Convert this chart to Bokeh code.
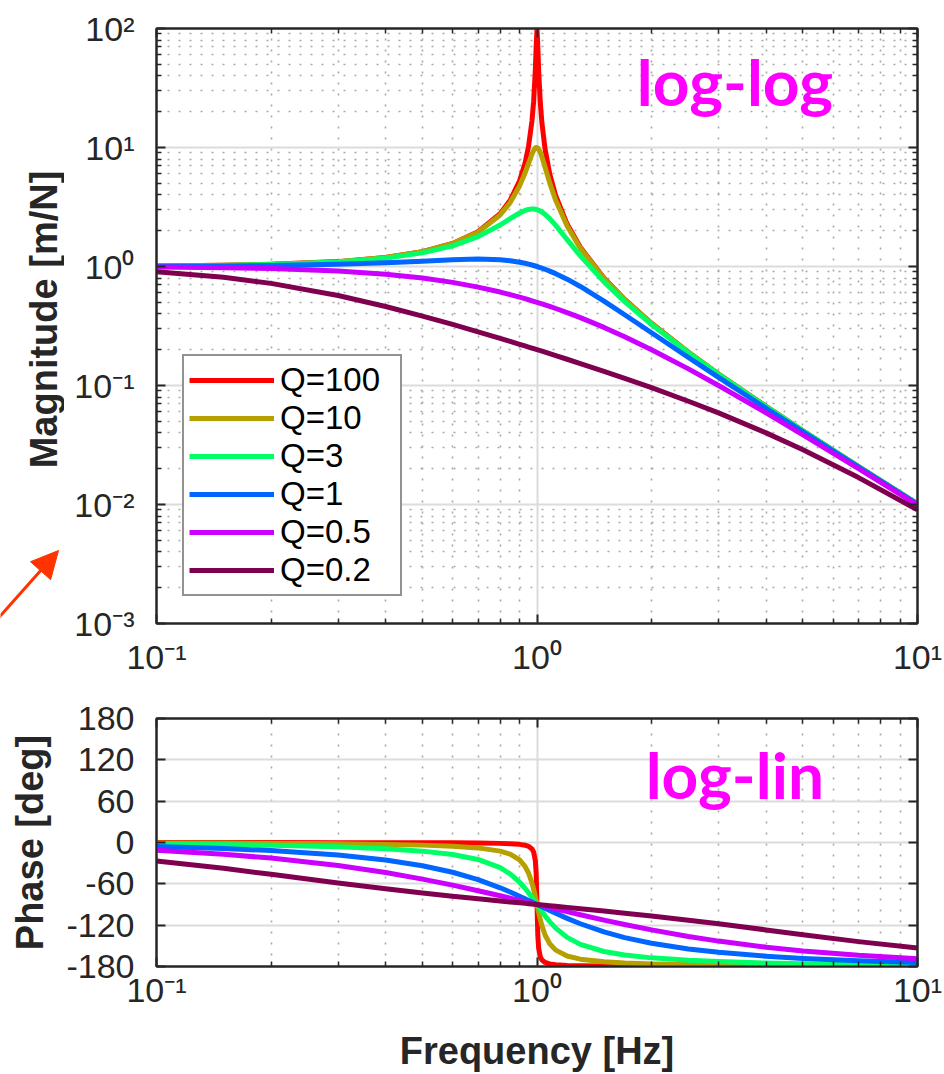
import math
from bokeh.plotting import figure
from bokeh.layouts import column, row
from bokeh.models import (FixedTicker, LogAxis, LinearAxis, Legend, LegendItem, Label,
                          Arrow, NormalHead, CustomJSTickFormatter, Range1d)
from bokeh.embed import file_html
from bokeh.resources import INLINE

# ---------------- data ----------------
q_labels = ["Q=100", "Q=10", "Q=3", "Q=1", "Q=0.5", "Q=0.2"]
q_colors = ["#FF0000", "#B5A000", "#00FF66", "#0066FF", "#CC00FF", "#800050"]

freq = [0.1, 0.15, 0.2, 0.3, 0.4, 0.5, 0.6, 0.7, 0.8, 0.85, 0.9, 0.93, 0.95, 0.97, 0.98,
        0.99, 0.995, 1.0, 1.005, 1.01, 1.02, 1.03, 1.05, 1.08, 1.12, 1.2, 1.3, 1.5, 1.7,
        2.0, 2.5, 3.0, 4.0, 5.0, 7.0, 10.0]

mag_q100 = [1.010, 1.023, 1.042, 1.099, 1.190, 1.333, 1.563, 1.961, 2.777, 3.602, 5.257, 7.384,
            10.21, 16.70, 24.51, 44.99, 70.98, 100.0, 70.45, 44.45, 24.00, 16.19, 9.705, 5.997,
            3.927, 2.272, 1.449, 0.800, 0.529, 0.3333, 0.1905, 0.125, 0.0667, 0.04167, 0.02083, 0.0101]
mag_q10 = [1.010, 1.023, 1.041, 1.098, 1.189, 1.330, 1.556, 1.943, 2.712, 3.446, 4.757, 6.097,
           7.346, 8.804, 9.461, 9.903, 10.0, 10.0, 9.901, 9.711, 9.115, 8.357, 6.815, 5.041,
           3.598, 2.193, 1.424, 0.7943, 0.527, 0.3326, 0.1903, 0.1249, 0.06664, 0.04166, 0.02083, 0.0101]
mag_q3 = [1.0095, 1.0217, 1.0392, 1.0923, 1.1758, 1.3016, 1.4914, 1.7830, 2.2321, 2.5215, 2.8161,
          2.9572, 3.0181, 3.0424, 3.0390, 3.0248, 3.0137, 3.0, 2.9837, 2.9650, 2.9206, 2.8679,
          2.7420, 2.5215, 2.2135, 1.6817, 1.2273, 0.7428, 0.5068, 0.3254, 0.1881, 0.1240, 0.06641,
          0.04157, 0.02081, 0.010095]
mag_q1 = [1.0050, 1.0112, 1.0198, 1.0436, 1.0748, 1.1094, 1.1399, 1.1546, 1.1399, 1.1184, 1.0872,
          1.0641, 1.0471, 1.0290, 1.0196, 1.0099, 1.0050, 1.0, 0.9950, 0.9899, 0.9796, 0.9692,
          0.9479, 0.9151, 0.8707, 0.7824, 0.6795, 0.5122, 0.3934, 0.2774, 0.1720, 0.1170, 0.06442,
          0.04079, 0.02062, 0.01005]
mag_q05 = [0.9901, 0.9780, 0.9615, 0.9174, 0.8621, 0.8000, 0.7353, 0.6711, 0.6098, 0.5806, 0.5525,
           0.5362, 0.5256, 0.5152, 0.5101, 0.5050, 0.5025, 0.5000, 0.4975, 0.4950, 0.4901, 0.4852,
           0.4756, 0.4616, 0.4436, 0.4098, 0.3717, 0.3077, 0.2571, 0.2000, 0.1379, 0.1000, 0.05882,
           0.03846, 0.0200, 0.009901]
mag_q02 = [0.9016, 0.8116, 0.7214, 0.5700, 0.4610, 0.3831, 0.3260, 0.2827, 0.2490, 0.2348, 0.2220,
           0.2150, 0.2105, 0.2062, 0.2041, 0.2020, 0.2010, 0.2000, 0.1990, 0.1980, 0.1961, 0.1942,
           0.1904, 0.1851, 0.1784, 0.1662, 0.1530, 0.1315, 0.1148, 0.09578, 0.07376, 0.05882, 0.0400,
           0.02886, 0.01683, 0.009016]

ph_q100 = [-0.06, -0.09, -0.12, -0.19, -0.27, -0.38, -0.54, -0.79, -1.27, -1.76, -2.71, -3.94, -5.57,
           -9.32, -13.90, -26.45, -44.93, -90.0, -134.93, -153.32, -165.83, -170.40, -174.15, -176.29,
           -177.48, -178.44, -178.92, -179.31, -179.48, -179.62, -179.73, -179.79, -179.85, -179.88,
           -179.92, -179.94]
ph_q10 = [-0.58, -0.88, -1.19, -1.89, -2.73, -3.81, -5.36, -7.82, -12.53, -17.03, -25.35, -34.54,
          -44.26, -58.65, -68.00, -78.63, -84.28, -90.0, -95.70, -101.26, -111.61, -120.59, -134.31,
          -147.00, -156.24, -164.74, -169.33, -173.16, -174.86, -176.19, -177.27, -177.85, -178.47,
          -178.81, -179.16, -179.42]
ph_q3 = [-1.93, -2.93, -3.97, -6.27, -9.02, -12.53, -17.35, -24.59, -36.53, -45.60, -57.65, -66.45,
         -72.89, -79.64, -83.09, -86.55, -88.28, -90.0, -91.71, -93.42, -96.78, -100.06, -106.32,
         -114.81, -124.27, -137.73, -147.87, -158.20, -163.31, -167.47, -170.98, -172.87, -174.92,
         -176.03, -177.22, -178.07]
ph_q1 = [-5.77, -8.73, -11.77, -18.25, -25.46, -33.69, -43.15, -53.92, -65.77, -71.92, -78.08,
         -81.73, -84.14, -86.51, -87.69, -88.85, -89.43, -90.0, -90.57, -91.14, -92.27, -93.38,
         -95.58, -98.76, -102.80, -110.14, -117.96, -129.81, -138.03, -146.31, -154.54, -159.44,
         -165.07, -168.23, -171.70, -174.23]
ph_q05 = [-11.42, -17.06, -22.62, -33.40, -43.60, -53.13, -61.93, -69.99, -77.32, -80.73, -83.97,
          -85.85, -87.06, -88.26, -88.84, -89.42, -89.71, -90.0, -90.29, -90.57, -91.13, -91.69,
          -92.79, -94.40, -96.48, -100.39, -104.86, -112.62, -119.07, -126.87, -136.40, -143.13,
          -151.93, -157.38, -163.74, -168.58]
ph_q02 = [-26.80, -37.50, -46.17, -58.76, -67.22, -73.30, -77.96, -81.71, -84.86, -86.26, -87.58,
          -88.34, -88.82, -89.30, -89.54, -89.77, -89.89, -90.0, -90.11, -90.23, -90.45, -90.68,
          -91.12, -91.76, -92.60, -94.19, -96.06, -99.46, -102.54, -106.70, -112.78, -118.07,
          -126.87, -133.83, -143.90, -153.20]

mag_series = [mag_q100, mag_q10, mag_q3, mag_q1, mag_q05, mag_q02]
ph_series = [ph_q100, ph_q10, ph_q3, ph_q1, ph_q05, ph_q02]

x_major = [0.1, 1, 10]
x_minor = [m * d for d in (0.1, 1) for m in range(2, 10)]
y_major = [1e-3, 1e-2, 1e-1, 1, 10, 100]
y_minor = [m * d for d in (1e-3, 1e-2, 1e-1, 1, 10) for m in range(2, 10)]
ph_ticks = [-180, -120, -60, 0, 60, 120, 180]

# ---------------- style ----------------
DARK = "#262626"
FONT = "Liberation Sans"
ARROW_RED = "#FF3300"

POW_CODE = """
const sup = {"-": "\u207b", "0": "\u2070", "1": "\u00b9", "2": "\u00b2", "3": "\u00b3",
             "4": "\u2074", "5": "\u2075", "6": "\u2076", "7": "\u2077", "8": "\u2078", "9": "\u2079"};
const e = Math.round(Math.log10(tick));
return "10" + String(e).split("").map(c => sup[c]).join("");
"""


def style_axis(ax, labels=True, standoff=12):
    ax.axis_line_color = DARK
    ax.axis_line_width = 2
    ax.major_tick_in = 9
    ax.major_tick_out = 0
    ax.minor_tick_in = 5
    ax.minor_tick_out = 0
    ax.major_tick_line_color = DARK
    ax.major_tick_line_width = 2
    ax.minor_tick_line_color = DARK
    ax.minor_tick_line_width = 1.5
    ax.major_label_text_font = FONT
    ax.major_label_text_color = DARK
    ax.major_label_standoff = standoff
    ax.axis_label_text_font = FONT
    ax.axis_label_text_font_size = "38px"
    ax.axis_label_text_font_style = "bold"
    ax.axis_label_text_color = DARK
    if labels:
        ax.major_label_text_font_size = "34px"
    else:
        ax.major_label_text_font_size = "8px"
        ax.major_label_text_color = None
        ax.major_label_standoff = 0
        ax.formatter = CustomJSTickFormatter(code="return '.';")


def style_grid(g, minor=True):
    g.grid_line_color = "#dcdcdc"
    g.grid_line_width = 2
    if minor:
        g.minor_grid_line_color = "#a8a8a8"
        g.minor_grid_line_width = 1.6
        g.minor_grid_line_dash = "2 9"


# ---------------- left strip: y label of the magnitude plot + red arrow ----------------
# (its frame is aligned with the magnitude frame, page y 28..623, so the range maps 1:1 to pixels)
STRIP_W = 64
strip = figure(width=STRIP_W, height=700, x_range=Range1d(0, STRIP_W), y_range=Range1d(623, 28),
               x_axis_location=None, y_axis_location=None, output_backend="svg",
               toolbar_location=None, min_border=0, min_border_left=0, min_border_right=0,
               min_border_top=28, min_border_bottom=77)
strip.outline_line_color = None
strip.grid.visible = False
strip.add_layout(Label(x=43, y=319, text="Magnitude [m/N]", angle=math.pi / 2,
                       text_align="center", text_baseline="middle", text_font=FONT,
                       text_font_size="38px", text_font_style="bold", text_color=DARK))
strip.add_layout(Arrow(end=NormalHead(size=27, fill_color=ARROW_RED, line_color=ARROW_RED,
                                      line_width=1),
                       x_start=-10, y_start=626.4, x_end=58, y_end=550,
                       line_color=ARROW_RED, line_width=3))

# ---------------- magnitude (log-log) ----------------
p1 = figure(width=944 - STRIP_W, height=700, x_axis_type="log", y_axis_type="log",
            x_range=Range1d(0.1, 10), y_range=Range1d(1e-3, 1e2),
            output_backend="svg", toolbar_location=None,
            min_border_left=156 - STRIP_W, min_border_right=27, min_border_top=28,
            min_border_bottom=77)
p1.outline_line_color = DARK
p1.outline_line_width = 2
p1.background_fill_color = "white"

xt1 = FixedTicker(ticks=x_major, minor_ticks=x_minor)
yt1 = FixedTicker(ticks=y_major, minor_ticks=y_minor)
p1.xaxis.ticker = xt1
p1.yaxis.ticker = yt1
p1.xgrid.ticker = xt1
p1.ygrid.ticker = yt1
p1.xaxis.formatter = CustomJSTickFormatter(code=POW_CODE)
p1.yaxis.formatter = CustomJSTickFormatter(code=POW_CODE)
style_axis(p1.xaxis[0], standoff=14)
style_axis(p1.yaxis[0], standoff=22)
style_grid(p1.xgrid[0])
style_grid(p1.ygrid[0])

top1 = LogAxis(ticker=xt1)
style_axis(top1, labels=False)
p1.add_layout(top1, "above")
right1 = LogAxis(ticker=yt1)
style_axis(right1, labels=False)
p1.add_layout(right1, "right")

items = []
for lab, col, ys in zip(q_labels, q_colors, mag_series):
    r = p1.line(freq, ys, line_color=col, line_width=5, line_join="round")
    items.append(LegendItem(label=lab, renderers=[r]))

legend = Legend(items=items, location=(26, 27), margin=0, padding=5, spacing=0,
                label_height=38, glyph_height=38, glyph_width=85, label_standoff=6,
                label_width=115, label_text_font=FONT, label_text_font_size="33px",
                label_text_color="black", border_line_color=DARK, border_line_width=2,
                background_fill_color="white", background_fill_alpha=1.0)
p1.add_layout(legend)

p1.add_layout(Label(x=1.83, y=35.9, text="log-log", text_font="Lato", text_font_style="bold",
                    text_font_size="64px", text_color="#FF00FF", text_baseline="alphabetic"))

# ---------------- phase (log-lin) ----------------
p2 = figure(width=944, height=374, x_axis_type="log",
            x_range=Range1d(0.1, 10), y_range=Range1d(-180, 180),
            output_backend="svg", toolbar_location=None,
            min_border_left=156, min_border_right=27, min_border_top=18, min_border_bottom=108)
p2.outline_line_color = DARK
p2.outline_line_width = 2

xt2 = FixedTicker(ticks=x_major, minor_ticks=x_minor)
yt2 = FixedTicker(ticks=ph_ticks, minor_ticks=[])
p2.xaxis.ticker = xt2
p2.yaxis.ticker = yt2
p2.xgrid.ticker = xt2
p2.ygrid.ticker = yt2
p2.xaxis.formatter = CustomJSTickFormatter(code=POW_CODE)
p2.yaxis.formatter = CustomJSTickFormatter(code="return String(tick);")
style_axis(p2.xaxis[0], standoff=4)
style_axis(p2.yaxis[0], standoff=22)
p2.xaxis.axis_label = "Frequency [Hz]"
p2.xaxis.axis_label_standoff = 18
p2.yaxis.axis_label = "Phase [deg]"
p2.yaxis.axis_label_standoff = 12
style_grid(p2.xgrid[0])
style_grid(p2.ygrid[0], minor=False)

top2 = LogAxis(ticker=xt2)
style_axis(top2, labels=False)
p2.add_layout(top2, "above")
right2 = LinearAxis(ticker=yt2)
style_axis(right2, labels=False)
p2.add_layout(right2, "right")

for col, ys in zip(q_colors, ph_series):
    p2.line(freq, ys, line_color=col, line_width=5, line_join="round")

p2.add_layout(Label(x=1.93, y=98.7, text="log-lin", text_font="Lato", text_font_style="bold",
                    text_font_size="64px", text_color="#FF00FF", text_baseline="alphabetic"))

layout = column(row(strip, p1), p2)
open("out.html", "w").write(file_html(layout, INLINE))
